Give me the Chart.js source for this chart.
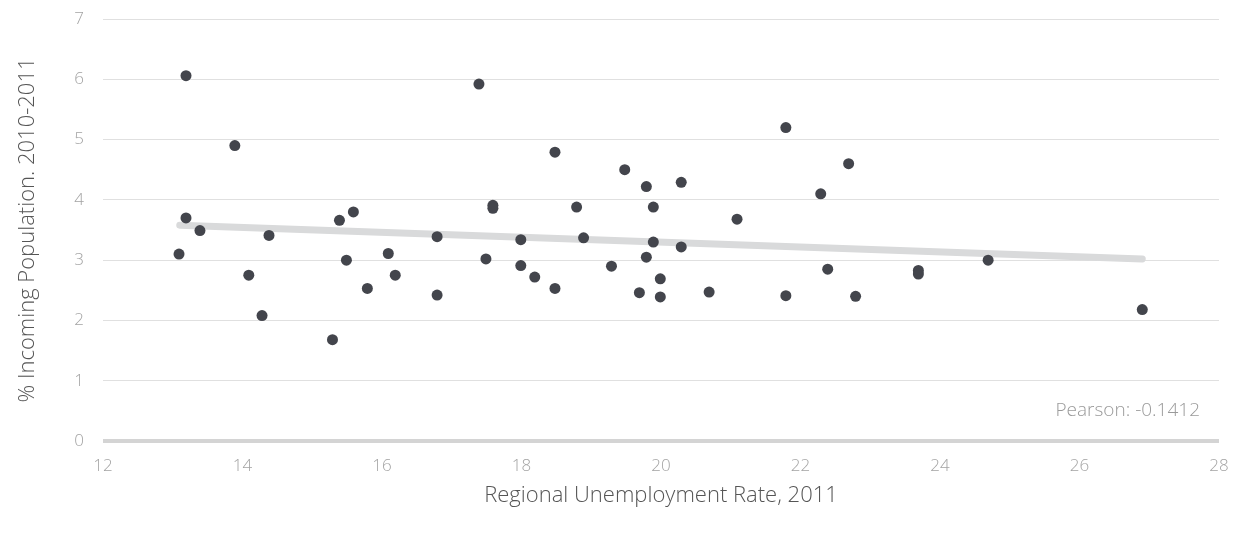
<!DOCTYPE html>
<html>
<head>
<meta charset="utf-8">
<script src="https://cdn.jsdelivr.net/npm/chart.js@4.4.1/dist/chart.umd.min.js"></script>
<style>
  html, body { margin: 0; padding: 0; background: #fff; }
  #chartBox { width: 1245px; height: 535px; position: relative; }
</style>
</head>
<body>
<div id="chartBox"><canvas id="myChart"></canvas></div>
<script>
// datos
const unempRate = [13.09, 13.19, 13.19, 13.39, 13.89, 14.09, 14.28, 14.38, 15.29, 15.39,
  15.49, 15.59, 15.79, 16.09, 16.19, 16.79, 16.79, 17.39, 17.49, 17.59,
  17.59, 17.99, 17.99, 18.19, 18.48, 18.48, 18.79, 18.89, 19.29, 19.48,
  19.69, 19.79, 19.79, 19.89, 19.89, 19.99, 19.99, 20.29, 20.29, 20.69,
  21.09, 21.79, 21.79, 22.29, 22.39, 22.69, 22.79, 23.69, 23.69, 24.69, 26.9];
const incomingPop = [3.10, 6.06, 3.70, 3.49, 4.90, 2.75, 2.08, 3.41, 1.68, 3.66,
  3.00, 3.80, 2.53, 3.11, 2.75, 3.39, 2.42, 5.92, 3.02, 3.91,
  3.86, 3.34, 2.91, 2.72, 4.79, 2.53, 3.88, 3.37, 2.90, 4.50,
  2.46, 4.22, 3.05, 3.88, 3.30, 2.69, 2.39, 4.29, 3.22, 2.47,
  3.68, 5.20, 2.41, 4.10, 2.85, 4.60, 2.40, 2.83, 2.77, 3.00, 2.18];
const trendX = [13.1, 26.9];
const trendY = [3.58, 3.02];
const xTicks = [12, 14, 16, 18, 20, 22, 24, 26, 28];
const yTicks = [0, 1, 2, 3, 4, 5, 6, 7];
const pearsonText = "Pearson: -0.1412";

const fontFam = "'Open Sans', Lato, sans-serif";

const puntos = unempRate.map((x, i) => ({ x: x, y: incomingPop[i] }));
const tendencia = trendX.map((x, i) => ({ x: x, y: trendY[i] }));

// texto de correlacion abajo a la derecha
const pearsonPlugin = {
  id: "pearson",
  afterDatasetsDraw(chart) {
    const { ctx, chartArea } = chart;
    ctx.save();
    ctx.font = "300 19px " + fontFam;
    ctx.fillStyle = "#9a9a9a";
    ctx.textAlign = "right";
    ctx.textBaseline = "middle";
    ctx.fillText(pearsonText, chartArea.right - 19, chartArea.bottom - 30);
    ctx.restore();
  },
};

const ctx = document.getElementById("myChart");
window.myChart = new Chart(ctx, {
  type: "scatter",
  data: {
    datasets: [
      {
        label: "Regions",
        data: puntos,
        backgroundColor: "#43454c",
        borderColor: "#43454c",
        borderWidth: 0,
        pointRadius: 5.5,
        order: 0,
      },
      {
        label: "Trend",
        type: "line",
        data: tendencia,
        borderColor: "#d9dadb",
        borderWidth: 7,
        borderCapStyle: "round",
        pointRadius: 0,
        fill: false,
        order: 1,
      },
    ],
  },
  options: {
    responsive: true,
    maintainAspectRatio: false,
    animation: false,
    layout: { padding: { left: 0, right: 26, top: 19, bottom: 0 } },
    plugins: {
      legend: { display: false },
      tooltip: { enabled: false },
    },
    scales: {
      x: {
        type: "linear",
        min: xTicks[0],
        max: xTicks[xTicks.length - 1],
        afterBuildTicks: (axis) => { axis.ticks = xTicks.map((v) => ({ value: v })); },
        afterFit: (axis) => { axis.height = 94; axis.paddingLeft = 0; axis.paddingRight = 0; },
        grid: { display: false, drawTicks: false },
        border: { display: false },
        ticks: {
          padding: 15,
          color: "#a3a3a3",
          font: { family: fontFam, size: 17, weight: "300" },
        },
        title: {
          display: true,
          text: "Regional Unemployment Rate, 2011",
          color: "#555",
          font: { family: fontFam, size: 22, weight: "300" },
          padding: { top: 0, bottom: 26 },
        },
      },
      y: {
        min: yTicks[0],
        max: yTicks[yTicks.length - 1],
        afterBuildTicks: (axis) => { axis.ticks = yTicks.map((v) => ({ value: v })); },
        afterFit: (axis) => { axis.width = 103; axis.paddingTop = 0; axis.paddingBottom = 0; },
        grid: {
          drawTicks: false,
          color: (c) => (c.tick && c.tick.value === 0 ? "#d4d4d4" : "#e0e0e0"),
          lineWidth: (c) => (c.tick && c.tick.value === 0 ? 4 : 1),
        },
        border: { display: false },
        ticks: {
          padding: 19,
          color: "#a3a3a3",
          font: { family: fontFam, size: 17, weight: "300" },
        },
        title: {
          display: true,
          text: "% Incoming Population. 2010-2011",
          color: "#555",
          font: { family: fontFam, size: 22, weight: "300" },
          padding: { top: 15, bottom: 0 },
        },
      },
    },
  },
  plugins: [pearsonPlugin],
});
</script>
</body>
</html>
